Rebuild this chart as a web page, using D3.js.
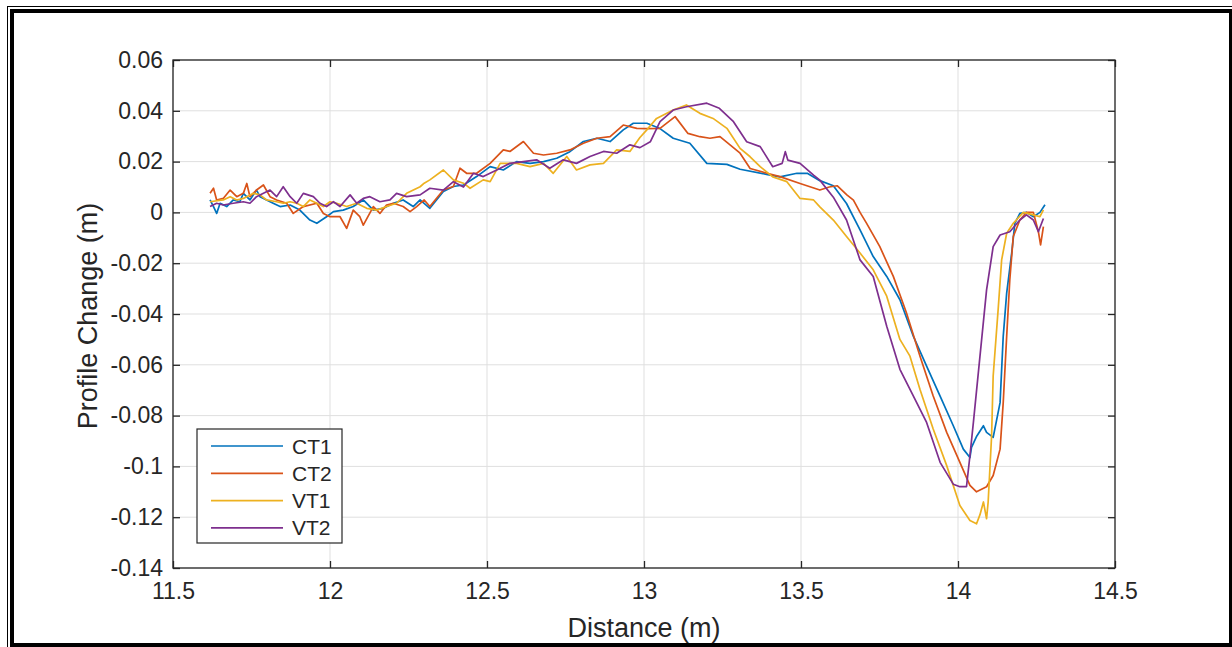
<!DOCTYPE html>
<html><head><meta charset="utf-8">
<script src="https://cdn.jsdelivr.net/npm/d3@7"></script>
<style>
html,body{margin:0;padding:0;background:#fff;}
svg{display:block;}
text{font-family:"Liberation Sans",Arial,Helvetica,sans-serif;fill:#262626;}
</style></head>
<body>
<svg id="chart" width="1232" height="647"></svg>
<script>
const seriesNames = ["CT1","CT2","VT1","VT2"];
const seriesColors = ["#0072BD","#D95319","#EDB120","#7E2F8E"];
const xTicks = [11.5,12,12.5,13,13.5,14,14.5];
const yTicks = [-0.14,-0.12,-0.1,-0.08,-0.06,-0.04,-0.02,0,0.02,0.04,0.06];
const xTickLabels = ["11.5","12","12.5","13","13.5","14","14.5"];
const yTickLabels = ["-0.14","-0.12","-0.1","-0.08","-0.06","-0.04","-0.02","0","0.02","0.04","0.06"];

const ct1X = [11.618,11.629,11.639,11.650,11.671,11.692,11.713,11.724,11.745,11.766,11.777,11.798,11.819,11.841,11.873,11.904,11.936,11.958,11.989,12.011,12.042,12.074,12.106,12.138,12.170,12.202,12.233,12.265,12.287,12.318,12.361,12.393,12.425,12.467,12.510,12.552,12.594,12.637,12.680,12.722,12.764,12.807,12.850,12.892,12.934,12.966,13.009,13.051,13.093,13.146,13.200,13.264,13.306,13.390,13.433,13.487,13.520,13.560,13.603,13.645,13.688,13.730,13.773,13.815,13.858,13.900,13.943,13.985,14.017,14.038,14.043,14.060,14.081,14.091,14.112,14.134,14.144,14.155,14.171,14.181,14.197,14.218,14.240,14.261,14.277];
const ct1Y = [0.0049,0.0023,-0.0004,0.0036,0.0023,0.0049,0.0042,0.0075,0.0049,0.0088,0.0062,0.0049,0.0036,0.0023,0.0029,0.0009,-0.0030,-0.0043,-0.0017,0.0003,0.0009,0.0023,0.0049,0.0009,0.0016,0.0036,0.0049,0.0023,0.0049,0.0016,0.0082,0.0102,0.0108,0.0141,0.0180,0.0167,0.0200,0.0193,0.0200,0.0213,0.0239,0.0279,0.0292,0.0279,0.0325,0.0351,0.0351,0.0330,0.0292,0.0272,0.0193,0.0189,0.0170,0.0150,0.0140,0.0154,0.0154,0.0125,0.0105,0.0035,-0.0069,-0.0174,-0.0252,-0.0344,-0.0488,-0.0605,-0.0723,-0.0840,-0.0932,-0.0965,-0.0925,-0.0880,-0.0840,-0.0866,-0.0886,-0.0749,-0.0488,-0.0318,-0.0160,-0.0043,-0.0004,0.0000,-0.0017,0.0000,0.0030];

const ct2X = [11.618,11.629,11.639,11.660,11.682,11.703,11.724,11.735,11.745,11.766,11.788,11.809,11.830,11.862,11.883,11.915,11.958,11.979,12.000,12.032,12.053,12.074,12.095,12.106,12.138,12.159,12.180,12.202,12.233,12.255,12.276,12.300,12.318,12.361,12.393,12.414,12.435,12.467,12.510,12.552,12.573,12.616,12.648,12.680,12.722,12.764,12.807,12.850,12.892,12.934,12.977,13.009,13.051,13.099,13.140,13.178,13.210,13.242,13.274,13.306,13.338,13.392,13.433,13.497,13.560,13.590,13.615,13.646,13.667,13.688,13.709,13.751,13.794,13.836,13.879,13.921,13.964,14.006,14.038,14.059,14.091,14.112,14.134,14.144,14.155,14.165,14.176,14.197,14.218,14.240,14.256,14.263,14.272];
const ct2Y = [0.0075,0.0095,0.0049,0.0055,0.0088,0.0062,0.0075,0.0114,0.0062,0.0088,0.0108,0.0062,0.0049,0.0036,-0.0004,0.0023,0.0036,-0.0004,-0.0017,-0.0017,-0.0063,0.0009,-0.0017,-0.0050,0.0023,-0.0004,0.0029,0.0036,0.0023,0.0003,0.0023,0.0049,0.0023,0.0088,0.0102,0.0174,0.0154,0.0154,0.0193,0.0246,0.0240,0.0279,0.0233,0.0226,0.0233,0.0246,0.0272,0.0292,0.0298,0.0344,0.0331,0.0330,0.0331,0.0377,0.0311,0.0298,0.0292,0.0298,0.0266,0.0233,0.0173,0.0154,0.0141,0.0114,0.0088,0.0100,0.0105,0.0069,0.0048,0.0000,-0.0043,-0.0135,-0.0252,-0.0396,-0.0566,-0.0723,-0.0866,-0.0984,-0.1075,-0.1100,-0.1080,-0.1036,-0.0932,-0.0749,-0.0488,-0.0265,-0.0095,-0.0030,0.0000,0.0000,-0.0076,-0.0128,-0.0056];

const vt1X = [11.618,11.660,11.682,11.703,11.724,11.756,11.777,11.798,11.830,11.851,11.873,11.894,11.915,11.936,11.958,11.979,12.000,12.021,12.053,12.085,12.117,12.149,12.180,12.212,12.244,12.287,12.300,12.318,12.361,12.393,12.425,12.446,12.488,12.510,12.542,12.594,12.637,12.680,12.711,12.754,12.785,12.828,12.871,12.913,12.955,12.987,13.009,13.040,13.093,13.135,13.178,13.220,13.264,13.306,13.338,13.370,13.410,13.455,13.497,13.540,13.560,13.603,13.645,13.688,13.730,13.773,13.815,13.847,13.879,13.921,13.964,14.006,14.038,14.059,14.070,14.081,14.091,14.096,14.107,14.112,14.128,14.139,14.155,14.176,14.208,14.240,14.261,14.272];
const vt1Y = [0.0042,0.0049,0.0062,0.0049,0.0055,0.0075,0.0069,0.0049,0.0042,0.0036,0.0042,0.0036,0.0023,0.0049,0.0036,0.0023,0.0042,0.0036,0.0023,0.0036,0.0016,0.0009,0.0023,0.0036,0.0075,0.0101,0.0115,0.0128,0.0167,0.0128,0.0115,0.0095,0.0128,0.0121,0.0193,0.0193,0.0180,0.0193,0.0154,0.0220,0.0167,0.0187,0.0193,0.0246,0.0240,0.0295,0.0325,0.0370,0.0403,0.0423,0.0390,0.0370,0.0331,0.0252,0.0219,0.0180,0.0140,0.0121,0.0055,0.0049,0.0022,-0.0030,-0.0095,-0.0160,-0.0226,-0.0330,-0.0500,-0.0566,-0.0697,-0.0853,-0.0997,-0.1154,-0.1213,-0.1226,-0.1190,-0.1140,-0.1206,-0.1140,-0.0880,-0.0644,-0.0380,-0.0187,-0.0082,-0.0043,0.0000,-0.0010,-0.0017,0.0010];

const vt2X = [11.618,11.639,11.660,11.692,11.724,11.745,11.766,11.788,11.809,11.830,11.851,11.873,11.894,11.915,11.947,11.968,11.989,12.011,12.032,12.064,12.085,12.106,12.127,12.159,12.191,12.212,12.244,12.287,12.318,12.361,12.393,12.425,12.457,12.488,12.531,12.573,12.616,12.658,12.700,12.743,12.785,12.828,12.871,12.913,12.955,12.987,13.020,13.051,13.093,13.135,13.200,13.240,13.285,13.327,13.370,13.410,13.440,13.450,13.458,13.497,13.540,13.560,13.603,13.645,13.688,13.730,13.773,13.815,13.858,13.900,13.943,13.985,14.006,14.027,14.038,14.049,14.070,14.091,14.112,14.134,14.165,14.197,14.218,14.240,14.256,14.272];
const vt2Y = [0.0023,0.0036,0.0029,0.0036,0.0042,0.0036,0.0062,0.0075,0.0088,0.0062,0.0101,0.0062,0.0036,0.0075,0.0062,0.0036,0.0023,0.0042,0.0023,0.0069,0.0036,0.0055,0.0062,0.0042,0.0049,0.0075,0.0062,0.0069,0.0095,0.0088,0.0121,0.0100,0.0154,0.0141,0.0167,0.0193,0.0200,0.0207,0.0174,0.0207,0.0193,0.0220,0.0240,0.0233,0.0266,0.0255,0.0278,0.0357,0.0403,0.0416,0.0430,0.0410,0.0357,0.0278,0.0259,0.0180,0.0193,0.0239,0.0206,0.0193,0.0147,0.0127,0.0060,-0.0030,-0.0187,-0.0252,-0.0448,-0.0618,-0.0723,-0.0827,-0.0984,-0.1070,-0.1080,-0.1080,-0.0958,-0.0827,-0.0566,-0.0305,-0.0135,-0.0089,-0.0076,-0.0030,-0.0010,-0.0030,-0.0076,-0.0024];

const seriesX = [ct1X, ct2X, vt1X, vt2X];
const seriesY = [ct1Y, ct2Y, vt1Y, vt2Y];

const svg = d3.select("#chart");
const W = 1232, H = 647;
svg.append("rect").attr("x",0).attr("y",0).attr("width",W).attr("height",H).attr("fill","#fff");
// outer frame
svg.append("rect").attr("x",7.5).attr("y",6.5).attr("width",1230).attr("height",645).attr("fill","none").attr("stroke","#000").attr("stroke-width",1);
svg.append("rect").attr("x",12).attr("y",11).attr("width",1219).attr("height",634).attr("fill","none").attr("stroke","#000").attr("stroke-width",4);

const L = 173, R = 1115, T = 60, B = 568;
const x = d3.scaleLinear().domain([11.5,14.5]).range([L,R]);
const y = d3.scaleLinear().domain([-0.14,0.06]).range([B,T]);

// grid
const g = svg.append("g");
g.selectAll(".gx").data(xTicks).enter().append("line")
  .attr("x1",d=>x(d)).attr("x2",d=>x(d)).attr("y1",T).attr("y2",B)
  .attr("stroke","#dfdfdf").attr("stroke-width",1);
g.selectAll(".gy").data(yTicks).enter().append("line")
  .attr("x1",L).attr("x2",R).attr("y1",d=>y(d)).attr("y2",d=>y(d))
  .attr("stroke","#dfdfdf").attr("stroke-width",1);

// data
svg.append("clipPath").attr("id","clip").append("rect").attr("x",L).attr("y",T).attr("width",R-L).attr("height",B-T);
const line = d3.line().x(d=>x(d[0])).y(d=>y(d[1]));
seriesNames.forEach((n,i)=>{
  const pts = seriesX[i].map((v,j)=>[v, seriesY[i][j]]);
  svg.append("path").datum(pts).attr("d",line).attr("fill","none")
    .attr("stroke",seriesColors[i]).attr("stroke-width",1.7)
    .attr("stroke-linejoin","round").attr("clip-path","url(#clip)");
});

// axes with inward ticks
const tick = 7;
const axB = svg.append("g").attr("transform",`translate(0,${B})`)
  .call(d3.axisBottom(x).tickValues(xTicks).tickSizeInner(-tick).tickSizeOuter(0).tickPadding(15).tickFormat((d,i)=>xTickLabels[i]));
const axT = svg.append("g").attr("transform",`translate(0,${T})`)
  .call(d3.axisTop(x).tickValues(xTicks).tickSizeInner(-tick).tickSizeOuter(0).tickFormat(""));
const axL = svg.append("g").attr("transform",`translate(${L},0)`)
  .call(d3.axisLeft(y).tickValues(yTicks).tickSizeInner(-tick).tickSizeOuter(0).tickPadding(10).tickFormat((d,i)=>yTickLabels[i]));
const axR = svg.append("g").attr("transform",`translate(${R},0)`)
  .call(d3.axisRight(y).tickValues(yTicks).tickSizeInner(-tick).tickSizeOuter(0).tickFormat(""));
[axB,axT,axL,axR].forEach(a=>{
  a.select(".domain").remove();
  a.selectAll("line").attr("stroke","#262626").attr("stroke-width",1.3);
  a.selectAll("text").attr("font-size",23).attr("fill","#262626")
    .style("font-family","'Liberation Sans',Arial,sans-serif");
});
axB.selectAll("text").attr("dy","0.71em");
svg.append("rect").attr("x",L).attr("y",T).attr("width",R-L).attr("height",B-T)
  .attr("fill","none").attr("stroke","#262626").attr("stroke-width",1.3);

// axis labels
svg.append("text").attr("x",(L+R)/2).attr("y",637).attr("text-anchor","middle")
  .attr("font-size",27).text("Distance (m)");
svg.append("text").attr("transform",`translate(97,${(T+B)/2+2}) rotate(-90)`)
  .attr("text-anchor","middle").attr("font-size",27).text("Profile Change (m)");

// legend
const lg = svg.append("g");
lg.append("rect").attr("x",197).attr("y",429).attr("width",145).attr("height",114)
  .attr("fill","#fff").attr("stroke","#262626").attr("stroke-width",1.2);
seriesNames.forEach((n,i)=>{
  const yy = 446 + i*27.3;
  lg.append("line").attr("x1",211).attr("x2",283).attr("y1",yy).attr("y2",yy)
    .attr("stroke",seriesColors[i]).attr("stroke-width",1.7);
  lg.append("text").attr("x",292).attr("y",yy).attr("dy","0.36em")
    .attr("font-size",21).text(n);
});
</script>
</body></html>
